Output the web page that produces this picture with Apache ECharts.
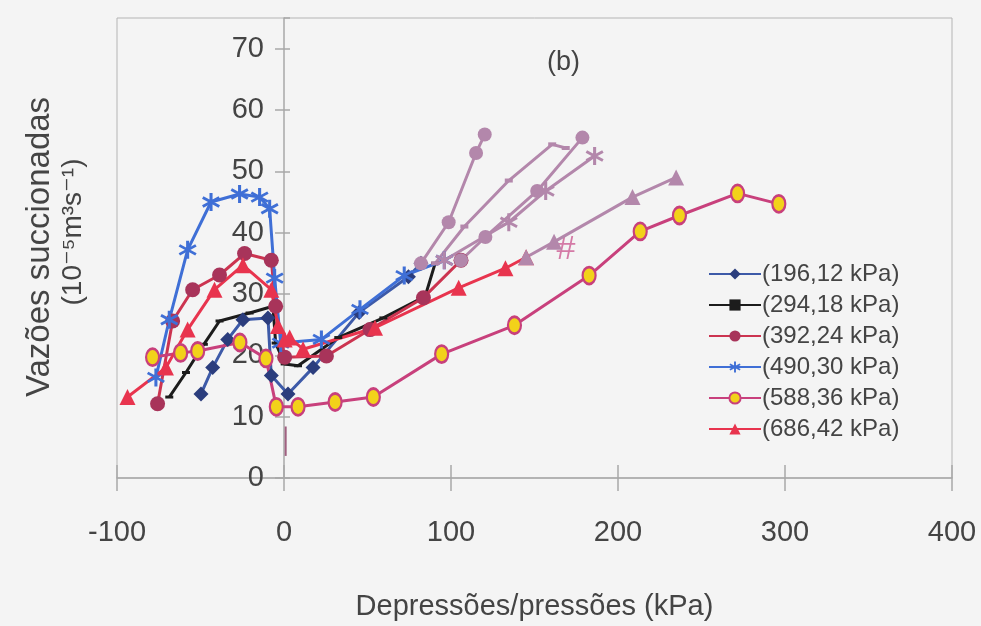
<!DOCTYPE html>
<html>
<head>
<meta charset="utf-8">
<script src="https://cdn.jsdelivr.net/npm/echarts@6/dist/echarts.min.js"></script>
<style>html,body{margin:0;padding:0;background:#f4f4f4;}#c{width:981px;height:626px;}</style>
</head>
<body>
<div id="c"></div>
<script>
// ---- data (x: kPa, y: 10^-5 m3/s) ----
const seriesNames = ['(196,12 kPa)', '(294,18 kPa)', '(392,24 kPa)', '(490,30 kPa)', '(588,36 kPa)', '(686,42 kPa)'];
const xTicks = [-100, 0, 100, 200, 300, 400];
const yTicks = [0, 10, 20, 30, 40, 50, 60, 70];

const s196 = [[-49.7,13.7],[-42.7,18],[-33.7,22.6],[-24.6,25.8],[-9.6,26.1],[-7.6,16.7],[2.4,13.7],[17.4,18],[45,27],[74.5,32.8],[82,35]];
const s196b = [[82,35],[98.6,41.7],[115,53],[120.2,56]];

const s294 = [[-68.7,13.2],[-58.7,17.2],[-48,21.8],[-38.6,25.6],[-20.6,26.9],[-6.6,28],[-5,22],[0.4,18.6],[8.4,18.3],[32.5,22.9],[59.5,26.1],[84.5,29.6],[90.5,35]];
const s294b = [[90.5,35],[108,41],[134.6,48.5],[160.6,54.4],[168.7,53.8]];

const s392 = [[-75.7,12.1],[-66.7,25.6],[-54.7,30.7],[-38.6,33.1],[-23.6,36.6],[-7.6,35.5],[-5,28],[0.4,19.7],[25.4,19.9],[51.5,24.2],[83.5,29.4],[106,35.5]];
const s392b = [[106,35.5],[120.6,39.3],[151.6,46.8],[178.7,55.5]];

const s490 = [[-76.7,16.4],[-68.7,25.8],[-57.7,37.2],[-43.7,45],[-26.6,46.3],[-14.6,45.8],[-8.6,43.9],[-5.6,32.6],[-2,22],[22.4,22.6],[45.5,27.5],[72,33],[96,35.5]];
const s490b = [[96,35.5],[134.6,41.7],[156.7,46.8],[186,52.5]];

const s588 = [[-78.7,19.7],[-61.9,20.4],[-51.7,20.7],[-26.4,22.1],[-10.8,19.5],[-4.6,11.6],[8.4,11.6],[30.6,12.4],[53.5,13.2],[94.4,20.2],[138,24.9],[182.7,33],[213.3,40.2],[236.8,42.8],[271.6,46.4],[296.3,44.7]];

const s686 = [[-93.7,13.2],[-70.7,18],[-57.7,24.2],[-41.6,30.7],[-24.6,34.7],[-7.6,30.7],[-3.6,24.8],[0.4,22.6],[3.4,22.9],[11.4,21],[54.5,24.5],[104.6,31],[132.6,34.2],[145,36]];
const s686b = [[145,36],[161.7,38.5],[208.7,45.8],[234.8,49]];

const tickMark = [[1,3.6],[1,8.4]];

// ---- styling ----
const FONT = "'Liberation Sans','DejaVu Sans',sans-serif";
const TXT = '#444444';
const PURPLE = '#b387ab';
const ASTER = 'path://M8.4,0 L11.6,0 L11.6,20 L8.4,20 Z M0.59,6.3 L2.09,3.7 L19.41,13.7 L17.91,16.3 Z M0.59,13.7 L17.91,3.7 L19.41,6.3 L2.09,16.3 Z';

function mk(name, data, color, symbol, size, itemColor, extra) {
  return Object.assign({
    name: name, type: 'line', data: data, symbol: symbol, symbolSize: size,
    lineStyle: {color: color, width: 3}, itemStyle: {color: itemColor || color},
    z: 3, animation: false
  }, extra || {});
}

const chart = echarts.init(document.getElementById('c'));
const baseX = {type: 'value', min: -100, max: 400, interval: 100};
chart.setOption({
  backgroundColor: '#f4f4f4',
  animation: false,
  grid: {left: 117, right: 29, top: 18, bottom: 146, show: true, borderColor: '#b4b4b4', borderWidth: 1, backgroundColor: 'transparent'},
  xAxis: [
    Object.assign({}, baseX, {
      axisLine: {onZero: false, lineStyle: {color: '#a8a8a8', width: 1.5}},
      axisTick: {show: true, length: 13, lineStyle: {color: '#a8a8a8', width: 1.5}},
      axisLabel: {margin: 40, fontSize: 29, color: TXT, fontFamily: FONT},
      splitLine: {show: false},
      name: 'Depressões/pressões (kPa)', nameLocation: 'middle', nameGap: 114,
      nameTextStyle: {fontSize: 29, color: TXT, fontFamily: FONT}
    }),
    Object.assign({}, baseX, {
      axisLine: {show: false},
      axisTick: {show: true, inside: true, length: 13, lineStyle: {color: '#a8a8a8', width: 1.5}},
      axisLabel: {show: false}, splitLine: {show: false}, position: 'bottom'
    })
  ],
  yAxis: [
    {type: 'value', min: 0, max: 75, interval: 10, position: 'left', offset: -167,
     axisLine: {show: true, onZero: false, lineStyle: {color: '#a8a8a8', width: 1.5}},
     axisTick: {show: true, length: 9, lineStyle: {color: '#a8a8a8', width: 1.5}},
     axisLabel: {margin: 20, fontSize: 29, color: TXT, fontFamily: FONT, showMaxLabel: false},
     splitLine: {show: false}},
    {type: 'value', min: 0, max: 75, interval: 10, position: 'left', offset: -167,
     axisLine: {show: false, onZero: false},
     axisTick: {show: true, inside: true, length: 6, lineStyle: {color: '#a8a8a8', width: 1.5}},
     axisLabel: {show: false}, splitLine: {show: false}}
  ],
  legend: {
    data: seriesNames, orient: 'vertical', left: 703, top: 257,
    itemWidth: 52, itemHeight: 14, itemGap: 7,
    textStyle: {fontSize: 24, color: TXT, fontFamily: FONT, padding: [0,0,0,-4]}
  },
  graphic: [
    {type: 'text', left: 547, top: 49, style: {text: '(b)', fontSize: 27, fill: TXT, fontFamily: FONT}},
    {type: 'text', x: 40, y: 247, rotation: Math.PI / 2,
     style: {text: 'Vazões succionadas', fontSize: 33, fill: TXT, fontFamily: FONT, align: 'center', verticalAlign: 'middle'}},
    {type: 'text', x: 73, y: 232, rotation: Math.PI / 2,
     style: {text: '(10⁻⁵m³s⁻¹)', fontSize: 28, fill: TXT, fontFamily: FONT, align: 'center', verticalAlign: 'middle'}},
    {type: 'text', x: 566, y: 250, style: {text: '#', fontSize: 34, fill: '#d47aa6', fontFamily: FONT, align: 'center', verticalAlign: 'middle'}}
  ],
  series: [
    mk(seriesNames[0], s196, '#3d5aa8', 'diamond', 15, '#2b3d7d'),
    mk(seriesNames[1], s294, '#1c1c1c', 'rect', [8, 3], '#1c1c1c'),
    mk(seriesNames[2], s392, '#cc3450', 'circle', 15, '#a8345a'),
    mk(seriesNames[3], s490, '#3f6fd6', ASTER, 18, '#3f6fd6'),
    mk(seriesNames[4], s588, '#c8407c', 'circle', [13, 17], '#f2d21a', {itemStyle: {color: '#f2d21a', borderColor: '#c8407c', borderWidth: 2.5}}),
    mk(seriesNames[5], s686, '#e8344e', 'triangle', 16, '#e8344e'),
    mk('p196', s196b, PURPLE, 'circle', 14, PURPLE),
    mk('p294', s294b, PURPLE, 'rect', [8, 4], PURPLE),
    mk('p392', s392b, PURPLE, 'circle', 14, PURPLE),
    mk('p490', s490b, PURPLE, ASTER, 18, PURPLE),
    mk('p686', s686b, PURPLE, 'triangle', 16, PURPLE),
    mk('mark', tickMark, '#a06080', 'none', 0, '#a06080', {lineStyle: {color: '#a06080', width: 2}})
  ]
});
</script>
</body>
</html>
